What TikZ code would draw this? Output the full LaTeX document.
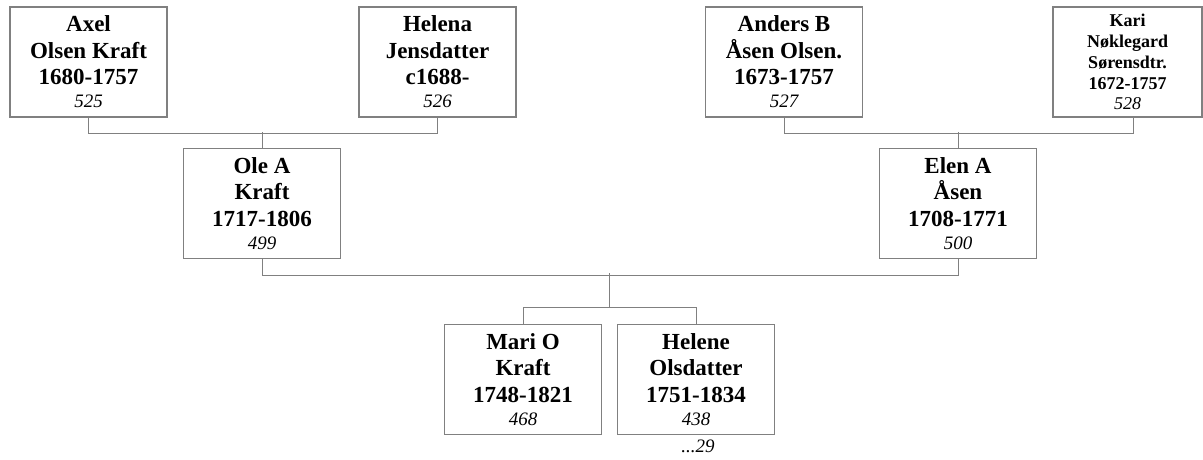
\documentclass[tikz,border=0pt]{standalone}
\usepackage{fontspec}
\setmainfont{Liberation Serif}
\usetikzlibrary{positioning,calc}

\definecolor{framegray}{RGB}{128,128,128}
\newcommand{\pid}[1]{{\normalfont\itshape\fontsize{19}{23}\selectfont #1}}

\begin{document}
\begin{tikzpicture}[
    x=1pt, y=-1pt,
    person/.style={draw=framegray, line width=1.1pt, minimum width=157pt, minimum height=110pt,
        inner sep=0pt, align=center, font=\fontsize{23}{26.5}\selectfont\bfseries},
    small/.style={person, minimum width=149pt, font=\fontsize{18}{21}\selectfont\bfseries},
    link/.style={draw=framegray, line width=1pt}
]
    \useasboundingbox (0,0) rectangle (1203,459);

    % Besteforeldre
    \node[person] (axel)   at (88.5, 62)  {Axel\\Olsen Kraft\\1680-1757\\[-3.5pt]\pid{525}};
    \node[person] (helena) at (437.5, 62) {Helena\\Jensdatter\\c1688-\\[-3.5pt]\pid{526}};
    \node[person] (anders) at (784, 62)   {Anders B\\Åsen Olsen.\\1673-1757\\[-3.5pt]\pid{527}};
    \node[small]  (kari)   at (1127.5, 62) {Kari\\Nøklegard\\Sørensdtr.\\1672-1757\\[-1pt]{\normalfont\itshape\fontsize{18}{21}\selectfont 528}};

    % Foreldre
    \node[person] (ole)  at (262, 203.5) {Ole A\\Kraft\\1717-1806\\[-3.5pt]\pid{499}};
    \node[person] (elen) at (958, 203.5) {Elen A\\Åsen\\1708-1771\\[-3.5pt]\pid{500}};

    % Barn
    \node[person] (mari)   at (523, 379.5) {Mari O\\Kraft\\1748-1821\\[-3.5pt]\pid{468}};
    \node[person] (helene) at (696, 379.5) {Helene\\Olsdatter\\1751-1834\\[-3.5pt]\pid{438}};
    \node[inner sep=0pt, below=5pt of helene, xshift=2pt] (more) {\pid{...29}};

    % Linjer
    \draw[link] (axel.south) -- ++(0,16) -| (helena.south);
    \draw[link] (ole.north) -- ++(0,-16);
    \draw[link] (anders.south) -- ++(0,16) -| ([xshift=5.5pt]kari.south);
    \draw[link] (elen.north) -- ++(0,-16);
    \draw[link] (ole.south) -- ++(0,16) -| (elen.south);
    \draw[link] (mari.north) -- ++(0,-16) -| (helene.north);
    \draw[link] ($(mari.north)!0.5!(helene.north)$) ++(0,-16) -- ++(0,-35);
\end{tikzpicture}
\end{document}
